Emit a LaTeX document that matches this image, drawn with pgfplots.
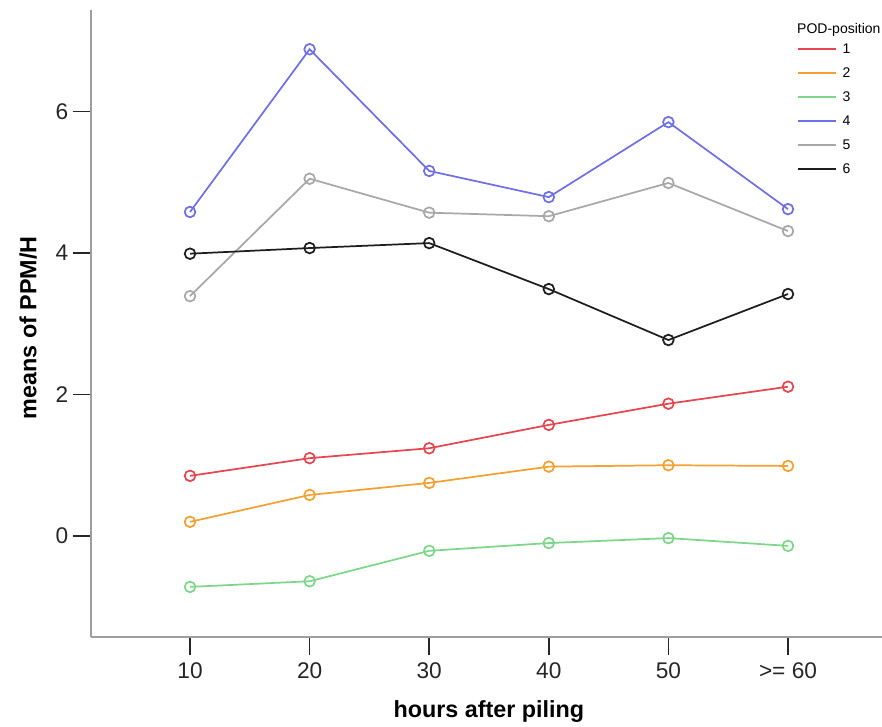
\documentclass[border=0pt]{standalone}
\usepackage{fontspec}
\setmainfont{Liberation Sans}
\usepackage{pgfplots}
\pgfplotsset{compat=1.18}
\definecolor{c1}{RGB}{230,70,80}
\definecolor{c2}{RGB}{245,160,50}
\definecolor{c3}{RGB}{125,214,138}
\definecolor{c4}{RGB}{112,112,230}
\definecolor{c5}{RGB}{168,168,168}
\definecolor{c6}{RGB}{30,30,30}
\begin{document}
\begin{tikzpicture}
\begin{axis}[name=ax, at={(0,0)}, anchor=south west, scale only axis,
  width=593.25pt, height=470.25pt,
  xmin=-0.828, xmax=5.786, ymin=-1.428, ymax=7.435,
  axis x line*=bottom, axis y line*=left,
  axis line style={draw=black!38, line width=1.5pt},
  xtick={0,...,5}, xticklabels={10,20,30,40,50,{>= 60}},
  ytick={0,2,4,6},
  tick align=outside, major tick length=13.5pt,
  tick style={black!85, line width=1.2pt},
  ticklabel style={font=\fontsize{17pt}{20pt}\selectfont, text=black!85},
  x tick label style={yshift=-2.5pt},
  /pgf/number format/assume math mode=true,
  xlabel={hours after piling}, ylabel={means of PPM/H},
  label style={font=\bfseries\fontsize{17.5pt}{20pt}\selectfont},
  x label style={at={(axis description cs:0.503,-0.1195)}, anchor=center},
  y label style={at={(axis description cs:-0.0796,0.493)}, anchor=center},
  legend style={draw=none, fill=none, inner sep=0pt, at={(rel axis cs:0.8925,0.947)}, anchor=north west,
    font=\fontsize{10.5pt}{12pt}\selectfont, row sep=9pt,
    nodes={inner sep=0pt, text height=7.5pt, text depth=1.5pt},
    /tikz/every odd column/.append style={column sep=4pt}},
  legend cell align=left,
  legend image code/.code={\draw[#1, line width=1.5pt] (0pt,0pt) -- (28.5pt,0pt);},
  every axis plot/.append style={line width=1.3pt, mark=o, mark size=4pt},
  clip=false,
]
\addplot[c1, mark options={c1}] coordinates {(0,0.85) (1,1.10) (2,1.24) (3,1.57) (4,1.87) (5,2.11)};
\addplot[c2, mark options={c2}] coordinates {(0,0.20) (1,0.58) (2,0.75) (3,0.98) (4,1.00) (5,0.99)};
\addplot[c3, mark options={c3}] coordinates {(0,-0.72) (1,-0.64) (2,-0.21) (3,-0.10) (4,-0.03) (5,-0.14)};
\addplot[c4, mark options={c4}] coordinates {(0,4.58) (1,6.88) (2,5.16) (3,4.79) (4,5.85) (5,4.62)};
\addplot[c5, mark options={c5}] coordinates {(0,3.39) (1,5.05) (2,4.57) (3,4.52) (4,4.99) (5,4.31)};
\addplot[c6, mark options={c6}] coordinates {(0,3.99) (1,4.07) (2,4.14) (3,3.49) (4,2.77) (5,3.42)};
\legend{1,2,3,4,5,6}
\node[anchor=west, inner sep=0pt, font=\fontsize{10.5pt}{12pt}\selectfont] at (rel axis cs:0.8925,0.968) {POD-position};
\end{axis}
\pgfresetboundingbox
\useasboundingbox ([shift={(-68.25pt,-67.5pt)}]ax.south west) rectangle ([shift={(0pt,7.5pt)}]ax.north east);
\end{tikzpicture}
\end{document}
